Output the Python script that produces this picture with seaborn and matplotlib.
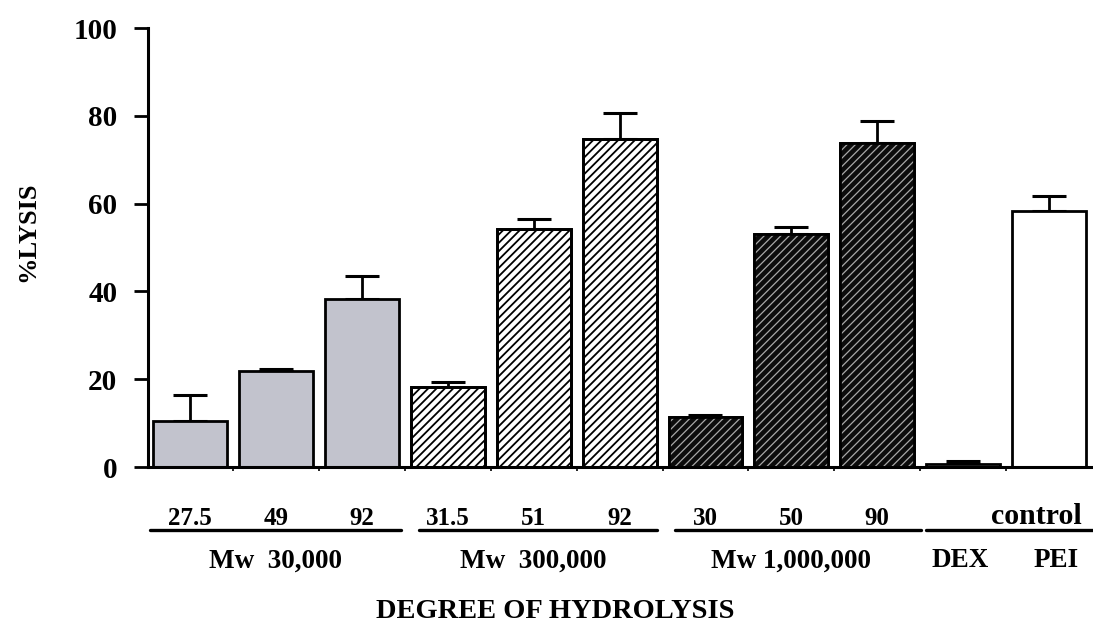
import numpy as np
import pandas as pd
import matplotlib
matplotlib.use("Agg")
import matplotlib.pyplot as plt
import matplotlib.transforms as mtransforms
from matplotlib.patches import Rectangle
import seaborn as sns

# ---------------- data ----------------
hydrolysis = ["27.5", "49", "92", "31.5", "51", "92", "30", "50", "90", "DEX", "PEI"]
groups = ["Mw  30,000"] * 3 + ["Mw  300,000"] * 3 + ["Mw 1,000,000"] * 3 + ["control"] * 2
lysis = [10.5, 21.9, 38.3, 18.2, 54.2, 74.7, 11.4, 53.1, 73.8, 0.7, 58.3]
err = [5.9, 0.4, 5.2, 1.2, 2.3, 5.9, 0.4, 1.6, 5.0, 0.7, 3.4]
group_labels = ["Mw  30,000", "Mw  300,000", "Mw 1,000,000"]
control_labels = ["DEX", "PEI"]

df = pd.DataFrame({"pos": np.arange(len(lysis)), "lysis": lysis,
                   "group": groups, "label": hydrolysis})

# ---------------- style ----------------
sns.set_theme(style="ticks")
plt.rcParams["font.family"] = ["Liberation Serif", "DejaVu Serif"]
plt.rcParams["font.weight"] = "bold"
for k in ["text.color", "axes.labelcolor", "xtick.color", "ytick.color", "axes.edgecolor"]:
    plt.rcParams[k] = "black"
plt.rcParams["hatch.linewidth"] = 1.25

face = {"Mw  30,000": "#c2c3cd", "Mw  300,000": "white",
        "Mw 1,000,000": "#0c0c0c", "control": "white"}
hatch = {"Mw  30,000": None, "Mw  300,000": "////",
         "Mw 1,000,000": "////", "control": None}
hatch_col = {"Mw  300,000": "black", "Mw 1,000,000": "#a8a8a8"}
hatch_lw = {"Mw  300,000": 1.3, "Mw 1,000,000": 0.9}

fig = plt.figure(figsize=(10.93, 6.32), dpi=100)
ax = fig.add_axes([148 / 1093, 1 - 467 / 632, 944 / 1093, 439 / 632])

sns.barplot(data=df, x="pos", y="lysis", hue="pos", palette=["white"] * len(df),
            legend=False, width=0.86, errorbar=None, ax=ax,
            edgecolor="black", linewidth=2.0, zorder=2)

patches = sorted(ax.patches, key=lambda p: p.get_x())
centers = []
for p, g in zip(patches, groups):
    p.set_facecolor(face[g])
    p.set_edgecolor("black")
    p.set_linewidth(2.0)
    centers.append(p.get_x() + p.get_width() / 2)
    if hatch[g]:
        r = Rectangle((p.get_x(), p.get_y()), p.get_width(), p.get_height(),
                      facecolor="none", edgecolor=hatch_col[g], linewidth=0,
                      hatch=hatch[g], zorder=2.5)
        try:
            r.set_hatch_linewidth(hatch_lw[g])
        except Exception:
            pass
        ax.add_patch(r)
        r2 = Rectangle((p.get_x(), p.get_y()), p.get_width(), p.get_height(),
                       facecolor="none", edgecolor="black", linewidth=2.0, zorder=2.6)
        ax.add_patch(r2)

ax.errorbar(centers, lysis, yerr=[np.zeros(len(err)), err], fmt="none",
            ecolor="black", elinewidth=2.0, capsize=12.5, capthick=2.2, zorder=1.5)

# axes
ax.set_ylim(0, 100)
ax.set_xlim(-0.49, 10.5)
ax.set_yticks([0, 20, 40, 60, 80, 100])
ax.tick_params(axis="y", length=10, width=2, pad=12, labelsize=21)
for t in ax.get_yticklabels():
    t.set_fontweight("bold")
ax.set_xticks(range(len(lysis)))
ax.set_xticklabels([h if g != "control" else "" for h, g in zip(hydrolysis, groups)],
                   fontsize=18, fontweight="bold")
ax.tick_params(axis="x", length=0, pad=29)
ax.set_xticks(np.arange(0.5, 10, 1.0), minor=True)
ax.tick_params(axis="x", which="minor", length=3, width=1.2)
ax.set_xlabel("")
ax.set_ylabel("")
sns.despine(ax=ax)
ax.spines["left"].set_linewidth(2.2)
ax.spines["bottom"].set_linewidth(2.2)

# group lines and labels
trans = mtransforms.blended_transform_factory(ax.transData, ax.transAxes)
segments = [(-0.47, 2.45), (2.66, 5.44), (5.65, 8.51), (8.57, 10.55)]
for a, b in segments:
    ax.plot([a, b], [-0.1435, -0.1435], color="black", lw=2.4,
            transform=trans, clip_on=False)
for i, lab in enumerate(group_labels):
    ax.text(1 + 3 * i, -0.214, lab, transform=trans, ha="center", va="center",
            fontsize=19.5, fontweight="bold")
ax.text(9.85, -0.112, "control", transform=trans, ha="center", va="center",
        fontsize=21.5, fontweight="bold")
for x, lab in zip([8.97, 10.08], control_labels):
    ax.text(x, -0.214, lab, transform=trans, ha="center", va="center",
            fontsize=19.5, fontweight="bold")

fig.text(555 / 1093, 1 - 612 / 632, "DEGREE OF HYDROLYSIS", ha="center", va="center",
         fontsize=20.5, fontweight="bold")
fig.text(28 / 1093, 1 - 232 / 632, "%LYSIS", rotation=90, ha="center", va="center",
         fontsize=19, fontweight="bold")

fig.savefig("out.png", dpi=100, facecolor="white")
